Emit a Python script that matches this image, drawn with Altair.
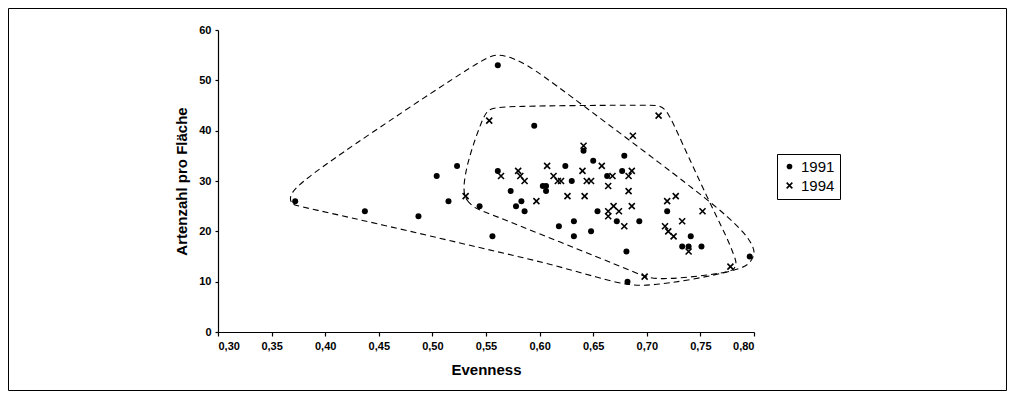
import altair as alt
import pandas as pd

# ---- data ----
dots_x = [0.372, 0.437, 0.487, 0.504, 0.515, 0.523, 0.544, 0.556, 0.561, 0.561,
          0.573, 0.578, 0.583, 0.586, 0.595, 0.603, 0.606, 0.606, 0.618, 0.624,
          0.630, 0.632, 0.632, 0.641, 0.650, 0.648, 0.654, 0.663, 0.672, 0.677,
          0.679, 0.681, 0.682, 0.693, 0.719, 0.733, 0.739, 0.741, 0.751, 0.796]
dots_y = [26, 24, 23, 31, 26, 33, 25, 19, 32, 53,
          28, 25, 26, 24, 41, 29, 29, 28, 21, 33,
          30, 22, 19, 36, 34, 20, 24, 31, 22, 32,
          35, 16, 10, 22, 24, 17, 17, 19, 17, 15]

cross_x = [0.553, 0.531, 0.564, 0.580, 0.582, 0.586, 0.597, 0.607, 0.613, 0.617,
           0.620, 0.626, 0.641, 0.640, 0.644, 0.648, 0.642, 0.658, 0.668, 0.664,
           0.669, 0.664, 0.674, 0.664, 0.679, 0.683, 0.686, 0.683, 0.686, 0.687,
           0.698, 0.711, 0.719, 0.727, 0.717, 0.720, 0.725, 0.733, 0.739, 0.752,
           0.778]
cross_y = [42, 27, 31, 32, 31, 30, 26, 33, 31, 30,
           30, 27, 37, 32, 30, 30, 27, 33, 31, 29,
           25, 24, 24, 23, 21, 31, 32, 28, 25, 39,
           11, 43, 26, 27, 21, 20, 19, 22, 16, 24,
           13]

# hand-drawn dashed envelopes (outline points)
hull91_x = [0.367, 0.369, 0.380, 0.470, 0.545, 0.607, 0.656, 0.682, 0.703, 0.740,
            0.785, 0.796, 0.801, 0.799, 0.792, 0.776, 0.757, 0.717, 0.640, 0.591,
            0.573, 0.5605, 0.549, 0.451, 0.405, 0.377, 0.3685]
hull91_y = [26.4, 25.3, 24.8, 20.5, 16.7, 13.7, 10.7, 9.3, 9.2, 10.3,
            12.3, 13.5, 15.5, 17.1, 19.5, 22.8, 26.2, 32.8, 45.1, 52.9,
            54.6, 55.2, 54.6, 40.7, 34.0, 29.6, 27.6]
hull94_x = [0.528, 0.532, 0.540, 0.545, 0.619, 0.691, 0.701, 0.719, 0.750, 0.775,
            0.781, 0.784, 0.782, 0.775, 0.757, 0.731, 0.719, 0.712, 0.703, 0.563,
            0.552, 0.5465, 0.533]
hull94_y = [28.2, 26.0, 24.6, 24.2, 17.9, 11.7, 10.7, 10.5, 11.1, 11.9,
            12.3, 13.5, 14.9, 18.7, 26.4, 38.5, 44.1, 45.0, 45.1, 44.9,
            44.3, 42.3, 34.2]

years = ["1991", "1994"]
x_ticks = [0.30, 0.35, 0.40, 0.45, 0.50, 0.55, 0.60, 0.65, 0.70, 0.75, 0.80]
y_ticks = [0, 10, 20, 30, 40, 50, 60]

# ---- tables ----
pts = pd.DataFrame({
    "Evenness": dots_x + cross_x,
    "Arten": dots_y + cross_y,
    "Jahr": [years[0]] * len(dots_x) + [years[1]] * len(cross_x),
})
hull = pd.DataFrame({
    "Evenness": hull91_x + hull94_x,
    "Arten": hull91_y + hull94_y,
    "hull": ["h1991"] * len(hull91_x) + ["h1994"] * len(hull94_x),
    "i": list(range(len(hull91_x))) + list(range(len(hull94_x))),
})
frame = pd.DataFrame({"a": [0]})

FONT = "Liberation Sans"
xs = alt.Scale(domain=[0.30, 0.80], nice=False, zero=False)
ys = alt.Scale(domain=[0, 60], nice=False, zero=False)

x_axis = alt.Axis(values=x_ticks, title="Evenness", tickSize=4, labelPadding=4,
                  titlePadding=11,
                  labelExpr="replace(format(datum.value, '.2f'), '.', ',')")
y_axis = alt.Axis(values=y_ticks, title="Artenzahl pro Fläche", tickSize=3,
                  labelPadding=4, titlePadding=9)

X = alt.X("Evenness:Q", scale=xs, axis=x_axis)
Y = alt.Y("Arten:Q", scale=ys, axis=y_axis)

XPATH = "M-1,-1L1,1M-1,1L1,-1"
leg = alt.Legend(title=None, orient="none", legendX=559, legendY=124,
                 strokeColor="black", fillColor="white", padding=5,
                 labelFont=FONT, labelFontSize=15, labelColor="black",
                 symbolSize=32, symbolStrokeWidth=1.6, rowPadding=3,
                 labelOffset=4)

frame_layer = alt.Chart(frame).mark_rect(
    fill="white", fillOpacity=0, stroke="black", strokeWidth=1
).encode(
    x=alt.value(-209.5), x2=alt.value(788.5),
    y=alt.value(-21.5), y2=alt.value(360.5)
)

hull_layer = alt.Chart(hull).mark_line(
    interpolate="basis-closed", strokeDash=[6, 4], strokeWidth=1.1, color="black"
).encode(x=X, y=Y, detail="hull:N", order="i:Q")

point_layer = alt.Chart(pts).mark_point(opacity=1, strokeWidth=1.6).encode(
    x=X, y=Y,
    shape=alt.Shape("Jahr:N", scale=alt.Scale(domain=years, range=["circle", XPATH]), legend=leg),
    fill=alt.Fill("Jahr:N", scale=alt.Scale(domain=years, range=["black", "transparent"]), legend=leg),
    stroke=alt.Stroke("Jahr:N", scale=alt.Scale(domain=years, range=["transparent", "black"]), legend=leg),
    size=alt.value(36),
)

chart = alt.layer(frame_layer, hull_layer, point_layer).properties(
    width=536, height=302,
    padding={"left": 210, "top": 22, "right": 253, "bottom": 59},
    autosize=alt.AutoSizeParams(type="none"),
    background="white",
).configure_view(strokeWidth=0).configure_axis(
    grid=False, domainColor="black", tickColor="black", labelColor="black",
    titleColor="black", labelFont=FONT, labelFontSize=11, labelFontWeight="bold",
    titleFont=FONT, titleFontSize=15, titleFontWeight="bold", domainWidth=1.2,
    tickWidth=1.2
)

chart.save("out.html", embed_options={"renderer": "svg", "actions": False})
